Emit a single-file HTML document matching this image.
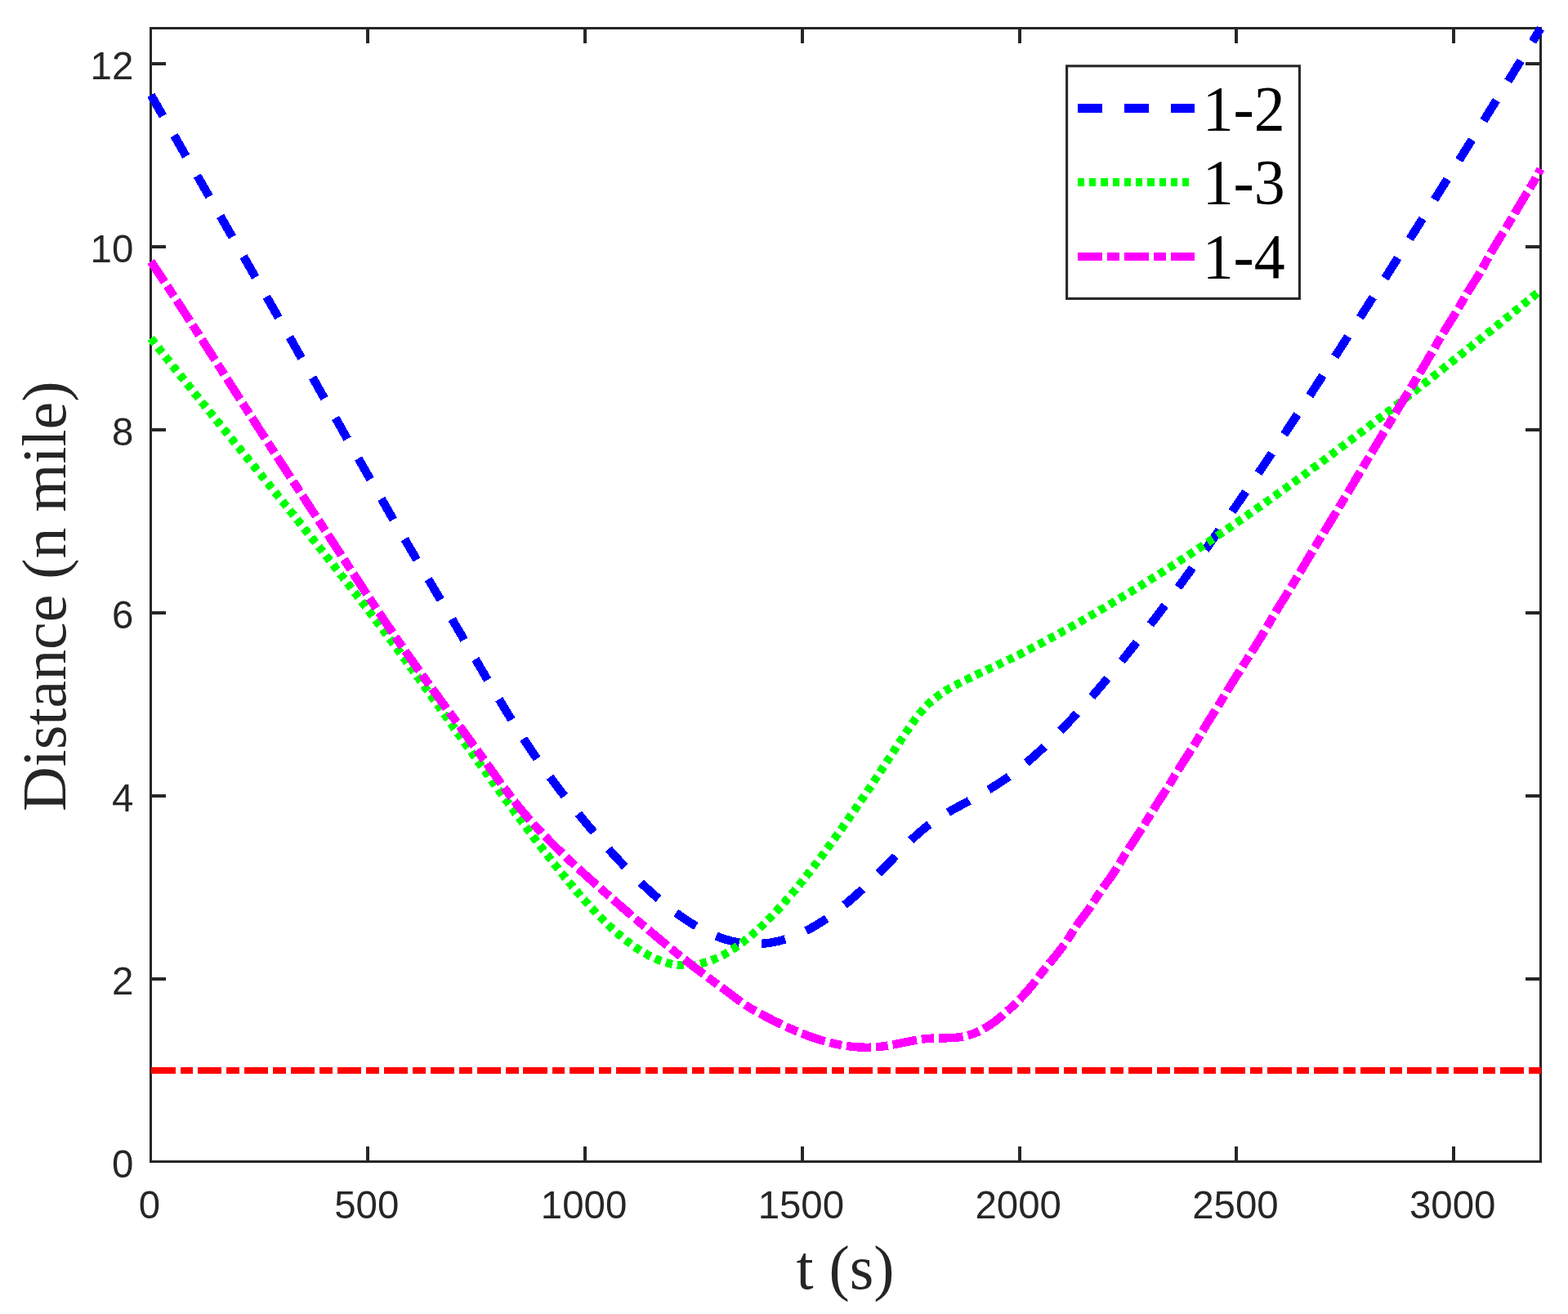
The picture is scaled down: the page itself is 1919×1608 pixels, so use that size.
<!DOCTYPE html>
<html lang="en">
<head>
<meta charset="utf-8">
<title>Distance vs time</title>
<style>
html,body{margin:0;padding:0;background:#fff;}
body{width:1919px;height:1608px;overflow:hidden;}
svg{display:block;}
.tk{font-family:"Liberation Sans",sans-serif;font-size:47.4px;fill:#262626;}
.lb{font-family:"Liberation Serif",serif;font-size:75.84px;fill:#262626;}
.lg{font-family:"Liberation Serif",serif;font-size:75.84px;fill:#000;}
</style>
</head>
<body>
<svg width="1919" height="1608" viewBox="0 0 1919 1608">
<rect x="0" y="0" width="1919" height="1608" fill="#ffffff"/>
<g stroke="#262626" stroke-width="3.1" fill="none" stroke-linecap="butt">
<rect x="184.50" y="34.50" width="1701.00" height="1387.00" stroke-width="3" shape-rendering="crispEdges"/>
<path d="M450 1420.00 v-17.00 M450 36.00 v17.00 M716 1420.00 v-17.00 M716 36.00 v17.00 M982 1420.00 v-17.00 M982 36.00 v17.00 M1248 1420.00 v-17.00 M1248 36.00 v17.00 M1513 1420.00 v-17.00 M1513 36.00 v17.00 M1779 1420.00 v-17.00 M1779 36.00 v17.00 M186.00 1198 h17.00 M1884.00 1198 h-17.00 M186.00 974 h17.00 M1884.00 974 h-17.00 M186.00 750 h17.00 M1884.00 750 h-17.00 M186.00 526 h17.00 M1884.00 526 h-17.00 M186.00 302 h17.00 M1884.00 302 h-17.00 M186.00 78 h17.00 M1884.00 78 h-17.00" stroke-width="4" shape-rendering="crispEdges"/>
</g>
<g>
<path d="M184.70 116.37 L187.70 121.58 L190.70 126.79 L193.70 132.01 L196.70 137.22 L199.70 142.44 L202.70 147.65 L205.70 152.87 L208.70 158.09 L211.70 163.31 L214.70 168.54 L217.70 173.76 L220.70 178.98 L223.70 184.21 L226.70 189.44 L229.70 194.66 L232.70 199.89 L235.70 205.12 L238.70 210.35 L241.70 215.58 L244.70 220.81 L247.70 226.05 L250.70 231.28 L253.70 236.51 L256.70 241.75 L259.70 246.98 L262.70 252.22 L265.70 257.45 L268.70 262.69 L271.70 267.92 L274.70 273.16 L277.70 278.39 L280.70 283.63 L283.70 288.87 L286.70 294.10 L289.70 299.34 L292.70 304.58 L295.70 309.82 L298.70 315.05 L301.70 320.29 L304.70 325.53 L307.70 330.77 L310.70 336.01 L313.70 341.26 L316.70 346.50 L319.70 351.74 L322.70 356.99 L325.70 362.24 L328.70 367.48 L331.70 372.73 L334.70 377.99 L337.70 383.24 L340.70 388.49 L343.70 393.75 L346.70 399.01 L349.70 404.27 L352.70 409.53 L355.70 414.79 L358.70 420.06 L361.70 425.32 L364.70 430.60 L367.70 435.87 L370.70 441.14 L373.70 446.42 L376.70 451.70 L379.70 456.98 L382.70 462.27 L385.70 467.56 L388.70 472.85 L391.70 478.14 L394.70 483.44 L397.70 488.74 L400.70 494.04 L403.70 499.34 L406.70 504.64 L409.70 509.95 L412.70 515.25 L415.70 520.55 L418.70 525.86 L421.70 531.16 L424.70 536.46 L427.70 541.76 L430.70 547.06 L433.70 552.35 L436.70 557.64 L439.70 562.93 L442.70 568.21 L445.70 573.49 L448.70 578.76 L451.70 584.03 L454.70 589.30 L457.70 594.55 L460.70 599.80 L463.70 605.05 L466.70 610.29 L469.70 615.52 L472.70 620.74 L475.70 625.95 L478.70 631.15 L481.70 636.35 L484.70 641.53 L487.70 646.71 L490.70 651.87 L493.70 657.02 L496.70 662.17 L499.70 667.29 L502.70 672.41 L505.70 677.52 L508.70 682.61 L511.70 687.70 L514.70 692.77 L517.70 697.84 L520.70 702.90 L523.70 707.95 L526.70 713.01 L529.70 718.06 L532.70 723.11 L535.70 728.16 L538.70 733.21 L541.70 738.26 L544.70 743.32 L547.70 748.38 L550.70 753.45 L553.70 758.53 L556.70 763.62 L559.70 768.72 L562.70 773.83 L565.70 778.95 L568.70 784.08 L571.70 789.21 L574.70 794.35 L577.70 799.49 L580.70 804.64 L583.70 809.77 L586.70 814.91 L589.70 820.04 L592.70 825.15 L595.70 830.26 L598.70 835.36 L601.70 840.43 L604.70 845.49 L607.70 850.53 L610.70 855.55 L613.70 860.54 L616.70 865.51 L619.70 870.44 L622.70 875.35 L625.70 880.22 L628.70 885.05 L631.70 889.84 L634.70 894.59 L637.70 899.29 L640.70 903.95 L643.70 908.55 L646.70 913.09 L649.70 917.58 L652.70 922.00 L655.70 926.37 L658.70 930.68 L661.70 934.95 L664.70 939.16 L667.70 943.33 L670.70 947.45 L673.70 951.53 L676.70 955.58 L679.70 959.59 L682.70 963.56 L685.70 967.51 L688.70 971.42 L691.70 975.31 L694.70 979.16 L697.70 982.98 L700.70 986.78 L703.70 990.54 L706.70 994.27 L709.70 997.97 L712.70 1001.64 L715.70 1005.28 L718.70 1008.89 L721.70 1012.47 L724.70 1016.02 L727.70 1019.54 L730.70 1023.03 L733.70 1026.49 L736.70 1029.92 L739.70 1033.32 L742.70 1036.68 L745.70 1040.02 L748.70 1043.33 L751.70 1046.61 L754.70 1049.86 L757.70 1053.07 L760.70 1056.26 L763.70 1059.41 L766.70 1062.54 L769.70 1065.63 L772.70 1068.68 L775.70 1071.70 L778.70 1074.68 L781.70 1077.62 L784.70 1080.53 L787.70 1083.39 L790.70 1086.22 L793.70 1089.00 L796.70 1091.74 L799.70 1094.43 L802.70 1097.09 L805.70 1099.69 L808.70 1102.25 L811.70 1104.76 L814.70 1107.22 L817.70 1109.64 L820.70 1112.00 L823.70 1114.31 L826.70 1116.57 L829.70 1118.77 L832.70 1120.92 L835.70 1123.01 L838.70 1125.05 L841.70 1127.03 L844.70 1128.95 L847.70 1130.81 L850.70 1132.61 L853.70 1134.35 L856.70 1136.03 L859.70 1137.64 L862.70 1139.19 L865.70 1140.67 L868.70 1142.09 L871.70 1143.44 L874.70 1144.72 L877.70 1145.93 L880.70 1147.07 L883.70 1148.13 L886.70 1149.13 L889.70 1150.05 L892.70 1150.90 L895.70 1151.67 L898.70 1152.37 L901.70 1152.98 L904.70 1153.52 L907.70 1153.98 L910.70 1154.36 L913.70 1154.67 L916.70 1154.89 L919.70 1155.04 L922.70 1155.10 L925.70 1155.09 L928.70 1155.01 L931.70 1154.85 L934.70 1154.61 L937.70 1154.30 L940.70 1153.91 L943.70 1153.45 L946.70 1152.91 L949.70 1152.30 L952.70 1151.62 L955.70 1150.86 L958.70 1150.03 L961.70 1149.13 L964.70 1148.16 L967.70 1147.12 L970.70 1146.01 L973.70 1144.82 L976.70 1143.57 L979.70 1142.25 L982.70 1140.86 L985.70 1139.40 L988.70 1137.87 L991.70 1136.28 L994.70 1134.61 L997.70 1132.88 L1000.70 1131.09 L1003.70 1129.23 L1006.70 1127.30 L1009.70 1125.32 L1012.70 1123.27 L1015.70 1121.16 L1018.70 1119.00 L1021.70 1116.77 L1024.70 1114.49 L1027.70 1112.16 L1030.70 1109.78 L1033.70 1107.34 L1036.70 1104.85 L1039.70 1102.31 L1042.70 1099.73 L1045.70 1097.10 L1048.70 1094.43 L1051.70 1091.71 L1054.70 1088.95 L1057.70 1086.15 L1060.70 1083.32 L1063.70 1080.44 L1066.70 1077.53 L1069.70 1074.58 L1072.70 1071.60 L1075.70 1068.59 L1078.70 1065.55 L1081.70 1062.48 L1084.70 1059.38 L1087.70 1056.25 L1090.70 1053.10 L1093.70 1049.95 L1096.70 1046.80 L1099.70 1043.65 L1102.70 1040.53 L1105.70 1037.44 L1108.70 1034.40 L1111.70 1031.41 L1114.70 1028.48 L1117.70 1025.63 L1120.70 1022.85 L1123.70 1020.15 L1126.70 1017.54 L1129.70 1015.02 L1132.70 1012.59 L1135.70 1010.25 L1138.70 1008.00 L1141.70 1005.85 L1144.70 1003.79 L1147.70 1001.80 L1150.70 999.88 L1153.70 998.03 L1156.70 996.22 L1159.70 994.47 L1162.70 992.76 L1165.70 991.07 L1168.70 989.42 L1171.70 987.77 L1174.70 986.14 L1177.70 984.51 L1180.70 982.88 L1183.70 981.24 L1186.70 979.60 L1189.70 977.95 L1192.70 976.29 L1195.70 974.62 L1198.70 972.93 L1201.70 971.21 L1204.70 969.48 L1207.70 967.72 L1210.70 965.93 L1213.70 964.10 L1216.70 962.25 L1219.70 960.35 L1222.70 958.42 L1225.70 956.44 L1228.70 954.41 L1231.70 952.34 L1234.70 950.21 L1237.70 948.03 L1240.70 945.79 L1243.70 943.50 L1246.70 941.16 L1249.70 938.77 L1252.70 936.33 L1255.70 933.83 L1258.70 931.29 L1261.70 928.71 L1264.70 926.08 L1267.70 923.40 L1270.70 920.68 L1273.70 917.92 L1276.70 915.12 L1279.70 912.27 L1282.70 909.39 L1285.70 906.47 L1288.70 903.52 L1291.70 900.52 L1294.70 897.50 L1297.70 894.44 L1300.70 891.34 L1303.70 888.22 L1306.70 885.07 L1309.70 881.88 L1312.70 878.67 L1315.70 875.43 L1318.70 872.16 L1321.70 868.87 L1324.70 865.55 L1327.70 862.20 L1330.70 858.83 L1333.70 855.43 L1336.70 852.00 L1339.70 848.55 L1342.70 845.08 L1345.70 841.58 L1348.70 838.05 L1351.70 834.51 L1354.70 830.94 L1357.70 827.35 L1360.70 823.73 L1363.70 820.10 L1366.70 816.44 L1369.70 812.76 L1372.70 809.06 L1375.70 805.35 L1378.70 801.61 L1381.70 797.85 L1384.70 794.07 L1387.70 790.28 L1390.70 786.46 L1393.70 782.63 L1396.70 778.78 L1399.70 774.91 L1402.70 771.03 L1405.70 767.13 L1408.70 763.21 L1411.70 759.28 L1414.70 755.34 L1417.70 751.38 L1420.70 747.40 L1423.70 743.41 L1426.70 739.41 L1429.70 735.39 L1432.70 731.36 L1435.70 727.31 L1438.70 723.25 L1441.70 719.18 L1444.70 715.09 L1447.70 710.99 L1450.70 706.88 L1453.70 702.75 L1456.70 698.62 L1459.70 694.47 L1462.70 690.30 L1465.70 686.13 L1468.70 681.94 L1471.70 677.74 L1474.70 673.52 L1477.70 669.30 L1480.70 665.06 L1483.70 660.82 L1486.70 656.56 L1489.70 652.29 L1492.70 648.01 L1495.70 643.71 L1498.70 639.41 L1501.70 635.09 L1504.70 630.77 L1507.70 626.43 L1510.70 622.09 L1513.70 617.73 L1516.70 613.36 L1519.70 608.99 L1522.70 604.60 L1525.70 600.20 L1528.70 595.80 L1531.70 591.38 L1534.70 586.96 L1537.70 582.52 L1540.70 578.08 L1543.70 573.63 L1546.70 569.17 L1549.70 564.70 L1552.70 560.22 L1555.70 555.73 L1558.70 551.24 L1561.70 546.74 L1564.70 542.22 L1567.70 537.71 L1570.70 533.18 L1573.70 528.65 L1576.70 524.10 L1579.70 519.55 L1582.70 515.00 L1585.70 510.44 L1588.70 505.87 L1591.70 501.29 L1594.70 496.70 L1597.70 492.11 L1600.70 487.52 L1603.70 482.92 L1606.70 478.31 L1609.70 473.69 L1612.70 469.07 L1615.70 464.44 L1618.70 459.81 L1621.70 455.17 L1624.70 450.53 L1627.70 445.88 L1630.70 441.23 L1633.70 436.57 L1636.70 431.91 L1639.70 427.24 L1642.70 422.57 L1645.70 417.89 L1648.70 413.21 L1651.70 408.53 L1654.70 403.84 L1657.70 399.15 L1660.70 394.45 L1663.70 389.75 L1666.70 385.05 L1669.70 380.34 L1672.70 375.63 L1675.70 370.92 L1678.70 366.20 L1681.70 361.48 L1684.70 356.76 L1687.70 352.03 L1690.70 347.30 L1693.70 342.57 L1696.70 337.84 L1699.70 333.10 L1702.70 328.36 L1705.70 323.62 L1708.70 318.87 L1711.70 314.13 L1714.70 309.37 L1717.70 304.62 L1720.70 299.86 L1723.70 295.10 L1726.70 290.34 L1729.70 285.58 L1732.70 280.81 L1735.70 276.04 L1738.70 271.26 L1741.70 266.49 L1744.70 261.71 L1747.70 256.93 L1750.70 252.14 L1753.70 247.36 L1756.70 242.57 L1759.70 237.78 L1762.70 232.98 L1765.70 228.18 L1768.70 223.38 L1771.70 218.58 L1774.70 213.78 L1777.70 208.97 L1780.70 204.16 L1783.70 199.35 L1786.70 194.53 L1789.70 189.72 L1792.70 184.90 L1795.70 180.08 L1798.70 175.25 L1801.70 170.43 L1804.70 165.60 L1807.70 160.76 L1810.70 155.93 L1813.70 151.10 L1816.70 146.26 L1819.70 141.42 L1822.70 136.57 L1825.70 131.73 L1828.70 126.88 L1831.70 122.03 L1834.70 117.18 L1837.70 112.33 L1840.70 107.47 L1843.70 102.61 L1846.70 97.75 L1849.70 92.89 L1852.70 88.03 L1855.70 83.16 L1858.70 78.29 L1861.70 73.42 L1864.70 68.55 L1867.70 63.68 L1870.70 58.80 L1873.70 53.92 L1876.70 49.04 L1879.70 44.16 L1882.70 39.28 L1885.50 34.72" fill="none" stroke="#0000ff" stroke-width="10.4" stroke-dasharray="29.5 27.385" stroke-dashoffset="0" stroke-linejoin="round" shape-rendering="crispEdges"/>
<path d="M184.70 413.97 L187.70 417.79 L190.70 421.60 L193.70 425.40 L196.70 429.20 L199.70 432.99 L202.70 436.77 L205.70 440.55 L208.70 444.32 L211.70 448.09 L214.70 451.85 L217.70 455.61 L220.70 459.36 L223.70 463.10 L226.70 466.84 L229.70 470.58 L232.70 474.31 L235.70 478.04 L238.70 481.76 L241.70 485.48 L244.70 489.19 L247.70 492.91 L250.70 496.62 L253.70 500.32 L256.70 504.03 L259.70 507.73 L262.70 511.42 L265.70 515.12 L268.70 518.81 L271.70 522.51 L274.70 526.20 L277.70 529.89 L280.70 533.57 L283.70 537.26 L286.70 540.95 L289.70 544.63 L292.70 548.32 L295.70 552.00 L298.70 555.68 L301.70 559.37 L304.70 563.05 L307.70 566.74 L310.70 570.42 L313.70 574.11 L316.70 577.80 L319.70 581.49 L322.70 585.18 L325.70 588.87 L328.70 592.57 L331.70 596.26 L334.70 599.96 L337.70 603.66 L340.70 607.36 L343.70 611.07 L346.70 614.78 L349.70 618.49 L352.70 622.21 L355.70 625.93 L358.70 629.65 L361.70 633.38 L364.70 637.11 L367.70 640.85 L370.70 644.59 L373.70 648.34 L376.70 652.09 L379.70 655.84 L382.70 659.61 L385.70 663.37 L388.70 667.15 L391.70 670.93 L394.70 674.71 L397.70 678.50 L400.70 682.30 L403.70 686.11 L406.70 689.92 L409.70 693.74 L412.70 697.56 L415.70 701.40 L418.70 705.24 L421.70 709.09 L424.70 712.95 L427.70 716.81 L430.70 720.69 L433.70 724.57 L436.70 728.46 L439.70 732.36 L442.70 736.27 L445.70 740.20 L448.70 744.13 L451.70 748.07 L454.70 752.02 L457.70 755.98 L460.70 759.95 L463.70 763.93 L466.70 767.92 L469.70 771.92 L472.70 775.94 L475.70 779.97 L478.70 784.00 L481.70 788.05 L484.70 792.12 L487.70 796.19 L490.70 800.27 L493.70 804.37 L496.70 808.48 L499.70 812.59 L502.70 816.72 L505.70 820.85 L508.70 825.00 L511.70 829.15 L514.70 833.31 L517.70 837.47 L520.70 841.64 L523.70 845.82 L526.70 850.01 L529.70 854.19 L532.70 858.39 L535.70 862.58 L538.70 866.78 L541.70 870.99 L544.70 875.19 L547.70 879.40 L550.70 883.61 L553.70 887.82 L556.70 892.03 L559.70 896.24 L562.70 900.45 L565.70 904.66 L568.70 908.87 L571.70 913.07 L574.70 917.28 L577.70 921.48 L580.70 925.67 L583.70 929.87 L586.70 934.06 L589.70 938.24 L592.70 942.42 L595.70 946.59 L598.70 950.76 L601.70 954.92 L604.70 959.07 L607.70 963.21 L610.70 967.35 L613.70 971.47 L616.70 975.59 L619.70 979.70 L622.70 983.79 L625.70 987.88 L628.70 991.95 L631.70 996.02 L634.70 1000.07 L637.70 1004.11 L640.70 1008.13 L643.70 1012.14 L646.70 1016.14 L649.70 1020.12 L652.70 1024.09 L655.70 1028.04 L658.70 1031.97 L661.70 1035.89 L664.70 1039.79 L667.70 1043.67 L670.70 1047.53 L673.70 1051.37 L676.70 1055.19 L679.70 1058.98 L682.70 1062.75 L685.70 1066.49 L688.70 1070.20 L691.70 1073.88 L694.70 1077.52 L697.70 1081.13 L700.70 1084.71 L703.70 1088.25 L706.70 1091.75 L709.70 1095.21 L712.70 1098.63 L715.70 1102.01 L718.70 1105.34 L721.70 1108.62 L724.70 1111.85 L727.70 1115.04 L730.70 1118.17 L733.70 1121.26 L736.70 1124.28 L739.70 1127.25 L742.70 1130.17 L745.70 1133.02 L748.70 1135.81 L751.70 1138.54 L754.70 1141.20 L757.70 1143.79 L760.70 1146.32 L763.70 1148.77 L766.70 1151.16 L769.70 1153.46 L772.70 1155.69 L775.70 1157.84 L778.70 1159.91 L781.70 1161.90 L784.70 1163.80 L787.70 1165.62 L790.70 1167.34 L793.70 1168.98 L796.70 1170.53 L799.70 1171.98 L802.70 1173.33 L805.70 1174.59 L808.70 1175.75 L811.70 1176.80 L814.70 1177.76 L817.70 1178.60 L820.70 1179.34 L823.70 1179.97 L826.70 1180.49 L829.70 1180.89 L832.70 1181.18 L835.70 1181.36 L838.70 1181.41 L841.70 1181.36 L844.70 1181.18 L847.70 1180.90 L850.70 1180.51 L853.70 1180.00 L856.70 1179.39 L859.70 1178.67 L862.70 1177.85 L865.70 1176.93 L868.70 1175.91 L871.70 1174.78 L874.70 1173.56 L877.70 1172.24 L880.70 1170.82 L883.70 1169.32 L886.70 1167.72 L889.70 1166.03 L892.70 1164.25 L895.70 1162.38 L898.70 1160.43 L901.70 1158.39 L904.70 1156.28 L907.70 1154.08 L910.70 1151.80 L913.70 1149.44 L916.70 1147.01 L919.70 1144.50 L922.70 1141.92 L925.70 1139.26 L928.70 1136.54 L931.70 1133.75 L934.70 1130.89 L937.70 1127.96 L940.70 1124.97 L943.70 1121.92 L946.70 1118.81 L949.70 1115.64 L952.70 1112.41 L955.70 1109.12 L958.70 1105.78 L961.70 1102.39 L964.70 1098.94 L967.70 1095.45 L970.70 1091.90 L973.70 1088.31 L976.70 1084.68 L979.70 1081.00 L982.70 1077.27 L985.70 1073.51 L988.70 1069.71 L991.70 1065.87 L994.70 1061.99 L997.70 1058.08 L1000.70 1054.13 L1003.70 1050.16 L1006.70 1046.15 L1009.70 1042.12 L1012.70 1038.05 L1015.70 1033.96 L1018.70 1029.85 L1021.70 1025.70 L1024.70 1021.53 L1027.70 1017.33 L1030.70 1013.11 L1033.70 1008.86 L1036.70 1004.59 L1039.70 1000.29 L1042.70 995.96 L1045.70 991.62 L1048.70 987.25 L1051.70 982.85 L1054.70 978.43 L1057.70 973.99 L1060.70 969.53 L1063.70 965.05 L1066.70 960.54 L1069.70 956.02 L1072.70 951.47 L1075.70 946.90 L1078.70 942.32 L1081.70 937.72 L1084.70 933.12 L1087.70 928.51 L1090.70 923.91 L1093.70 919.30 L1096.70 914.70 L1099.70 910.12 L1102.70 905.55 L1105.70 901.00 L1108.70 896.49 L1111.70 892.05 L1114.70 887.70 L1117.70 883.48 L1120.70 879.40 L1123.70 875.50 L1126.70 871.80 L1129.70 868.32 L1132.70 865.07 L1135.70 862.04 L1138.70 859.20 L1141.70 856.56 L1144.70 854.08 L1147.70 851.76 L1150.70 849.59 L1153.70 847.54 L1156.70 845.61 L1159.70 843.78 L1162.70 842.04 L1165.70 840.37 L1168.70 838.76 L1171.70 837.20 L1174.70 835.67 L1177.70 834.16 L1180.70 832.67 L1183.70 831.20 L1186.70 829.75 L1189.70 828.32 L1192.70 826.89 L1195.70 825.48 L1198.70 824.08 L1201.70 822.68 L1204.70 821.29 L1207.70 819.90 L1210.70 818.52 L1213.70 817.13 L1216.70 815.73 L1219.70 814.33 L1222.70 812.93 L1225.70 811.51 L1228.70 810.08 L1231.70 808.64 L1234.70 807.19 L1237.70 805.73 L1240.70 804.26 L1243.70 802.77 L1246.70 801.28 L1249.70 799.78 L1252.70 798.26 L1255.70 796.74 L1258.70 795.21 L1261.70 793.66 L1264.70 792.11 L1267.70 790.55 L1270.70 788.98 L1273.70 787.40 L1276.70 785.81 L1279.70 784.21 L1282.70 782.60 L1285.70 780.99 L1288.70 779.36 L1291.70 777.73 L1294.70 776.09 L1297.70 774.44 L1300.70 772.79 L1303.70 771.12 L1306.70 769.45 L1309.70 767.77 L1312.70 766.09 L1315.70 764.40 L1318.70 762.70 L1321.70 760.99 L1324.70 759.28 L1327.70 757.56 L1330.70 755.84 L1333.70 754.11 L1336.70 752.37 L1339.70 750.62 L1342.70 748.87 L1345.70 747.12 L1348.70 745.35 L1351.70 743.59 L1354.70 741.81 L1357.70 740.03 L1360.70 738.24 L1363.70 736.45 L1366.70 734.65 L1369.70 732.84 L1372.70 731.03 L1375.70 729.21 L1378.70 727.39 L1381.70 725.56 L1384.70 723.72 L1387.70 721.88 L1390.70 720.04 L1393.70 718.18 L1396.70 716.32 L1399.70 714.46 L1402.70 712.59 L1405.70 710.71 L1408.70 708.83 L1411.70 706.94 L1414.70 705.05 L1417.70 703.15 L1420.70 701.25 L1423.70 699.33 L1426.70 697.42 L1429.70 695.50 L1432.70 693.57 L1435.70 691.64 L1438.70 689.70 L1441.70 687.76 L1444.70 685.81 L1447.70 683.85 L1450.70 681.89 L1453.70 679.93 L1456.70 677.96 L1459.70 675.98 L1462.70 674.00 L1465.70 672.02 L1468.70 670.02 L1471.70 668.03 L1474.70 666.03 L1477.70 664.02 L1480.70 662.01 L1483.70 659.99 L1486.70 657.97 L1489.70 655.94 L1492.70 653.91 L1495.70 651.87 L1498.70 649.83 L1501.70 647.78 L1504.70 645.73 L1507.70 643.67 L1510.70 641.61 L1513.70 639.54 L1516.70 637.47 L1519.70 635.39 L1522.70 633.31 L1525.70 631.23 L1528.70 629.14 L1531.70 627.04 L1534.70 624.94 L1537.70 622.84 L1540.70 620.73 L1543.70 618.61 L1546.70 616.49 L1549.70 614.37 L1552.70 612.24 L1555.70 610.11 L1558.70 607.98 L1561.70 605.83 L1564.70 603.69 L1567.70 601.54 L1570.70 599.39 L1573.70 597.23 L1576.70 595.07 L1579.70 592.90 L1582.70 590.73 L1585.70 588.55 L1588.70 586.38 L1591.70 584.19 L1594.70 582.01 L1597.70 579.81 L1600.70 577.62 L1603.70 575.42 L1606.70 573.22 L1609.70 571.01 L1612.70 568.80 L1615.70 566.59 L1618.70 564.37 L1621.70 562.14 L1624.70 559.92 L1627.70 557.69 L1630.70 555.46 L1633.70 553.22 L1636.70 550.98 L1639.70 548.73 L1642.70 546.48 L1645.70 544.23 L1648.70 541.98 L1651.70 539.72 L1654.70 537.46 L1657.70 535.19 L1660.70 532.92 L1663.70 530.65 L1666.70 528.37 L1669.70 526.10 L1672.70 523.81 L1675.70 521.53 L1678.70 519.24 L1681.70 516.95 L1684.70 514.65 L1687.70 512.35 L1690.70 510.05 L1693.70 507.75 L1696.70 505.44 L1699.70 503.13 L1702.70 500.81 L1705.70 498.50 L1708.70 496.18 L1711.70 493.85 L1714.70 491.53 L1717.70 489.20 L1720.70 486.87 L1723.70 484.53 L1726.70 482.20 L1729.70 479.86 L1732.70 477.51 L1735.70 475.17 L1738.70 472.82 L1741.70 470.47 L1744.70 468.12 L1747.70 465.76 L1750.70 463.40 L1753.70 461.04 L1756.70 458.68 L1759.70 456.32 L1762.70 453.95 L1765.70 451.58 L1768.70 449.20 L1771.70 446.83 L1774.70 444.45 L1777.70 442.07 L1780.70 439.69 L1783.70 437.31 L1786.70 434.92 L1789.70 432.53 L1792.70 430.14 L1795.70 427.75 L1798.70 425.35 L1801.70 422.96 L1804.70 420.56 L1807.70 418.16 L1810.70 415.75 L1813.70 413.35 L1816.70 410.94 L1819.70 408.53 L1822.70 406.12 L1825.70 403.71 L1828.70 401.30 L1831.70 398.88 L1834.70 396.46 L1837.70 394.04 L1840.70 391.62 L1843.70 389.20 L1846.70 386.78 L1849.70 384.35 L1852.70 381.92 L1855.70 379.50 L1858.70 377.07 L1861.70 374.63 L1864.70 372.20 L1867.70 369.77 L1870.70 367.33 L1873.70 364.89 L1876.70 362.45 L1879.70 360.01 L1882.70 357.57 L1885.50 355.29" fill="none" stroke="#00ff00" stroke-width="10.2" stroke-dasharray="8.2 6.025" stroke-dashoffset="0" stroke-linejoin="round" shape-rendering="crispEdges"/>
<path d="M184.70 320.05 L187.70 324.51 L190.70 328.99 L193.70 333.48 L196.70 337.99 L199.70 342.51 L202.70 347.05 L205.70 351.60 L208.70 356.16 L211.70 360.74 L214.70 365.32 L217.70 369.92 L220.70 374.53 L223.70 379.15 L226.70 383.78 L229.70 388.42 L232.70 393.06 L235.70 397.72 L238.70 402.38 L241.70 407.04 L244.70 411.72 L247.70 416.40 L250.70 421.08 L253.70 425.77 L256.70 430.46 L259.70 435.16 L262.70 439.86 L265.70 444.56 L268.70 449.26 L271.70 453.96 L274.70 458.67 L277.70 463.37 L280.70 468.07 L283.70 472.78 L286.70 477.48 L289.70 482.17 L292.70 486.87 L295.70 491.56 L298.70 496.25 L301.70 500.93 L304.70 505.61 L307.70 510.28 L310.70 514.95 L313.70 519.61 L316.70 524.26 L319.70 528.91 L322.70 533.55 L325.70 538.19 L328.70 542.82 L331.70 547.45 L334.70 552.08 L337.70 556.70 L340.70 561.31 L343.70 565.93 L346.70 570.54 L349.70 575.14 L352.70 579.75 L355.70 584.35 L358.70 588.95 L361.70 593.55 L364.70 598.15 L367.70 602.74 L370.70 607.34 L373.70 611.93 L376.70 616.53 L379.70 621.12 L382.70 625.72 L385.70 630.31 L388.70 634.91 L391.70 639.51 L394.70 644.11 L397.70 648.71 L400.70 653.31 L403.70 657.91 L406.70 662.52 L409.70 667.12 L412.70 671.73 L415.70 676.34 L418.70 680.94 L421.70 685.55 L424.70 690.15 L427.70 694.74 L430.70 699.33 L433.70 703.92 L436.70 708.50 L439.70 713.08 L442.70 717.64 L445.70 722.20 L448.70 726.75 L451.70 731.29 L454.70 735.82 L457.70 740.34 L460.70 744.85 L463.70 749.34 L466.70 753.82 L469.70 758.29 L472.70 762.74 L475.70 767.17 L478.70 771.59 L481.70 775.99 L484.70 780.37 L487.70 784.74 L490.70 789.08 L493.70 793.41 L496.70 797.71 L499.70 801.99 L502.70 806.25 L505.70 810.49 L508.70 814.71 L511.70 818.92 L514.70 823.11 L517.70 827.29 L520.70 831.45 L523.70 835.60 L526.70 839.74 L529.70 843.86 L532.70 847.98 L535.70 852.09 L538.70 856.20 L541.70 860.30 L544.70 864.39 L547.70 868.48 L550.70 872.57 L553.70 876.65 L556.70 880.74 L559.70 884.83 L562.70 888.92 L565.70 893.01 L568.70 897.11 L571.70 901.21 L574.70 905.32 L577.70 909.44 L580.70 913.56 L583.70 917.70 L586.70 921.85 L589.70 926.01 L592.70 930.18 L595.70 934.37 L598.70 938.57 L601.70 942.78 L604.70 946.99 L607.70 951.18 L610.70 955.36 L613.70 959.52 L616.70 963.63 L619.70 967.70 L622.70 971.72 L625.70 975.68 L628.70 979.56 L631.70 983.37 L634.70 987.09 L637.70 990.74 L640.70 994.32 L643.70 997.83 L646.70 1001.28 L649.70 1004.67 L652.70 1008.00 L655.70 1011.28 L658.70 1014.51 L661.70 1017.70 L664.70 1020.85 L667.70 1023.96 L670.70 1027.04 L673.70 1030.09 L676.70 1033.11 L679.70 1036.09 L682.70 1039.06 L685.70 1041.99 L688.70 1044.90 L691.70 1047.78 L694.70 1050.64 L697.70 1053.48 L700.70 1056.29 L703.70 1059.09 L706.70 1061.86 L709.70 1064.62 L712.70 1067.36 L715.70 1070.08 L718.70 1072.79 L721.70 1075.49 L724.70 1078.17 L727.70 1080.84 L730.70 1083.50 L733.70 1086.15 L736.70 1088.79 L739.70 1091.42 L742.70 1094.04 L745.70 1096.66 L748.70 1099.28 L751.70 1101.89 L754.70 1104.50 L757.70 1107.11 L760.70 1109.71 L763.70 1112.31 L766.70 1114.91 L769.70 1117.50 L772.70 1120.09 L775.70 1122.67 L778.70 1125.24 L781.70 1127.81 L784.70 1130.37 L787.70 1132.93 L790.70 1135.47 L793.70 1138.01 L796.70 1140.55 L799.70 1143.07 L802.70 1145.58 L805.70 1148.09 L808.70 1150.58 L811.70 1153.07 L814.70 1155.54 L817.70 1158.00 L820.70 1160.46 L823.70 1162.90 L826.70 1165.33 L829.70 1167.74 L832.70 1170.14 L835.70 1172.53 L838.70 1174.91 L841.70 1177.27 L844.70 1179.62 L847.70 1181.95 L850.70 1184.27 L853.70 1186.57 L856.70 1188.86 L859.70 1191.13 L862.70 1193.38 L865.70 1195.62 L868.70 1197.84 L871.70 1200.04 L874.70 1202.22 L877.70 1204.40 L880.70 1206.59 L883.70 1208.79 L886.70 1211.03 L889.70 1213.28 L892.70 1215.55 L895.70 1217.81 L898.70 1220.06 L901.70 1222.29 L904.70 1224.48 L907.70 1226.62 L910.70 1228.71 L913.70 1230.73 L916.70 1232.67 L919.70 1234.52 L922.70 1236.28 L925.70 1237.96 L928.70 1239.59 L931.70 1241.19 L934.70 1242.77 L937.70 1244.34 L940.70 1245.89 L943.70 1247.42 L946.70 1248.93 L949.70 1250.42 L952.70 1251.89 L955.70 1253.33 L958.70 1254.75 L961.70 1256.15 L964.70 1257.52 L967.70 1258.86 L970.70 1260.18 L973.70 1261.47 L976.70 1262.72 L979.70 1263.95 L982.70 1265.14 L985.70 1266.31 L988.70 1267.43 L991.70 1268.53 L994.70 1269.58 L997.70 1270.60 L1000.70 1271.58 L1003.70 1272.53 L1006.70 1273.43 L1009.70 1274.29 L1012.70 1275.11 L1015.70 1275.89 L1018.70 1276.62 L1021.70 1277.30 L1024.70 1277.94 L1027.70 1278.54 L1030.70 1279.08 L1033.70 1279.58 L1036.70 1280.02 L1039.70 1280.42 L1042.70 1280.77 L1045.70 1281.06 L1048.70 1281.30 L1051.70 1281.49 L1054.70 1281.62 L1057.70 1281.70 L1060.70 1281.73 L1063.70 1281.70 L1066.70 1281.61 L1069.70 1281.46 L1072.70 1281.25 L1075.70 1280.99 L1078.70 1280.66 L1081.70 1280.28 L1084.70 1279.84 L1087.70 1279.35 L1090.70 1278.82 L1093.70 1278.26 L1096.70 1277.67 L1099.70 1277.07 L1102.70 1276.45 L1105.70 1275.83 L1108.70 1275.21 L1111.70 1274.60 L1114.70 1274.00 L1117.70 1273.44 L1120.70 1272.90 L1123.70 1272.40 L1126.70 1271.95 L1129.70 1271.55 L1132.70 1271.22 L1135.70 1270.95 L1138.70 1270.75 L1141.70 1270.61 L1144.70 1270.52 L1147.70 1270.46 L1150.70 1270.42 L1153.70 1270.39 L1156.70 1270.35 L1159.70 1270.28 L1162.70 1270.18 L1165.70 1270.03 L1168.70 1269.82 L1171.70 1269.53 L1174.70 1269.16 L1177.70 1268.67 L1180.70 1268.08 L1183.70 1267.35 L1186.70 1266.50 L1189.70 1265.51 L1192.70 1264.39 L1195.70 1263.12 L1198.70 1261.72 L1201.70 1260.18 L1204.70 1258.51 L1207.70 1256.72 L1210.70 1254.81 L1213.70 1252.78 L1216.70 1250.64 L1219.70 1248.39 L1222.70 1246.05 L1225.70 1243.60 L1228.70 1241.06 L1231.70 1238.43 L1234.70 1235.72 L1237.70 1232.92 L1240.70 1230.05 L1243.70 1227.11 L1246.70 1224.07 L1249.70 1220.94 L1252.70 1217.72 L1255.70 1214.40 L1258.70 1210.96 L1261.70 1207.42 L1264.70 1203.75 L1267.70 1199.96 L1270.70 1196.05 L1273.70 1192.12 L1276.70 1188.26 L1279.70 1184.51 L1282.70 1180.83 L1285.70 1177.19 L1288.70 1173.55 L1291.70 1169.87 L1294.70 1166.11 L1297.70 1162.25 L1300.70 1158.24 L1303.70 1154.05 L1306.70 1149.66 L1309.70 1145.09 L1312.70 1140.37 L1315.70 1135.66 L1318.70 1131.19 L1321.70 1127.02 L1324.70 1123.04 L1327.70 1119.11 L1330.70 1115.12 L1333.70 1110.92 L1336.70 1106.40 L1339.70 1101.65 L1342.70 1096.93 L1345.70 1092.44 L1348.70 1088.15 L1351.70 1083.98 L1354.70 1079.87 L1357.70 1075.74 L1360.70 1071.51 L1363.70 1067.12 L1366.70 1062.48 L1369.70 1057.57 L1372.70 1052.51 L1375.70 1047.53 L1378.70 1042.72 L1381.70 1038.05 L1384.70 1033.45 L1387.70 1028.91 L1390.70 1024.36 L1393.70 1019.77 L1396.70 1015.09 L1399.70 1010.29 L1402.70 1005.38 L1405.70 1000.43 L1408.70 995.49 L1411.70 990.62 L1414.70 985.84 L1417.70 981.15 L1420.70 976.51 L1423.70 971.88 L1426.70 967.22 L1429.70 962.51 L1432.70 957.70 L1435.70 952.75 L1438.70 947.70 L1441.70 942.68 L1444.70 937.81 L1447.70 933.10 L1450.70 928.48 L1453.70 923.91 L1456.70 919.32 L1459.70 914.67 L1462.70 909.89 L1465.70 904.94 L1468.70 899.81 L1471.70 894.66 L1474.70 889.64 L1477.70 884.74 L1480.70 879.93 L1483.70 875.18 L1486.70 870.44 L1489.70 865.68 L1492.70 860.86 L1495.70 855.96 L1498.70 850.96 L1501.70 845.95 L1504.70 841.01 L1507.70 836.13 L1510.70 831.32 L1513.70 826.54 L1516.70 821.80 L1519.70 817.09 L1522.70 812.38 L1525.70 807.68 L1528.70 802.96 L1531.70 798.22 L1534.70 793.44 L1537.70 788.62 L1540.70 783.75 L1543.70 778.80 L1546.70 773.77 L1549.70 768.66 L1552.70 763.49 L1555.70 758.30 L1558.70 753.16 L1561.70 748.10 L1564.70 743.17 L1567.70 738.34 L1570.70 733.56 L1573.70 728.80 L1576.70 724.00 L1579.70 719.14 L1582.70 714.21 L1585.70 709.23 L1588.70 704.20 L1591.70 699.15 L1594.70 694.07 L1597.70 688.99 L1600.70 683.91 L1603.70 678.85 L1606.70 673.81 L1609.70 668.80 L1612.70 663.82 L1615.70 658.86 L1618.70 653.92 L1621.70 649.00 L1624.70 644.08 L1627.70 639.16 L1630.70 634.24 L1633.70 629.31 L1636.70 624.36 L1639.70 619.39 L1642.70 614.41 L1645.70 609.41 L1648.70 604.40 L1651.70 599.38 L1654.70 594.35 L1657.70 589.31 L1660.70 584.26 L1663.70 579.21 L1666.70 574.15 L1669.70 569.09 L1672.70 564.04 L1675.70 558.98 L1678.70 553.93 L1681.70 548.88 L1684.70 543.84 L1687.70 538.81 L1690.70 533.79 L1693.70 528.78 L1696.70 523.79 L1699.70 518.81 L1702.70 513.85 L1705.70 508.90 L1708.70 503.97 L1711.70 499.05 L1714.70 494.13 L1717.70 489.21 L1720.70 484.30 L1723.70 479.37 L1726.70 474.44 L1729.70 469.50 L1732.70 464.53 L1735.70 459.55 L1738.70 454.54 L1741.70 449.51 L1744.70 444.45 L1747.70 439.35 L1750.70 434.21 L1753.70 429.03 L1756.70 423.82 L1759.70 418.61 L1762.70 413.46 L1765.70 408.40 L1768.70 403.47 L1771.70 398.65 L1774.70 393.87 L1777.70 389.07 L1780.70 384.17 L1783.70 379.12 L1786.70 373.95 L1789.70 368.74 L1792.70 363.58 L1795.70 358.54 L1798.70 353.69 L1801.70 348.95 L1804.70 344.24 L1807.70 339.45 L1810.70 334.48 L1813.70 329.26 L1816.70 323.85 L1819.70 318.36 L1822.70 312.90 L1825.70 307.58 L1828.70 302.45 L1831.70 297.48 L1834.70 292.59 L1837.70 287.73 L1840.70 282.85 L1843.70 277.91 L1846.70 272.92 L1849.70 267.89 L1852.70 262.84 L1855.70 257.79 L1858.70 252.73 L1861.70 247.69 L1864.70 242.67 L1867.70 237.70 L1870.70 232.78 L1873.70 227.86 L1876.70 222.85 L1879.70 217.66 L1882.70 212.18 L1885.50 206.74" fill="none" stroke="#ff00ff" stroke-width="10.4" stroke-dasharray="30 6 15 5.9" stroke-dashoffset="0" stroke-linejoin="round" shape-rendering="crispEdges"/>
<path d="M185.00 1310.00 L1885.50 1310.00" fill="none" stroke="#ff0000" stroke-width="8" stroke-dasharray="29.5 6 15.5 5.93" stroke-dashoffset="0" stroke-linejoin="round" shape-rendering="crispEdges"/>
</g>
<g class="tk" text-anchor="middle">
<text transform="translate(183.00 1491.00) scale(1 1.028)">0</text>
<text transform="translate(448.78 1491.00) scale(1 1.028)">500</text>
<text transform="translate(714.56 1491.00) scale(1 1.028)">1000</text>
<text transform="translate(980.34 1491.00) scale(1 1.028)">1500</text>
<text transform="translate(1246.12 1491.00) scale(1 1.028)">2000</text>
<text transform="translate(1511.91 1491.00) scale(1 1.028)">2500</text>
<text transform="translate(1777.69 1491.00) scale(1 1.028)">3000</text>
</g>
<g class="tk" text-anchor="end">
<text transform="translate(163.30 1440.76) scale(1 1.028)">0</text>
<text transform="translate(163.30 1216.84) scale(1 1.028)">2</text>
<text transform="translate(163.30 992.92) scale(1 1.028)">4</text>
<text transform="translate(163.30 769.00) scale(1 1.028)">6</text>
<text transform="translate(163.30 545.08) scale(1 1.028)">8</text>
<text transform="translate(163.30 321.16) scale(1 1.028)">10</text>
<text transform="translate(163.30 97.24) scale(1 1.028)">12</text>
</g>
<text class="lb" text-anchor="middle" x="1034.50" y="1576.50">t (s)</text>
<text class="lb" text-anchor="middle" transform="translate(80.20 729.70) rotate(-90)">Distance (n mile)</text>
<rect x="1305.60" y="80.80" width="284.80" height="284.60" fill="#ffffff" stroke="#262626" stroke-width="3.1"/>
<path d="M1319.00 132.50 H1462.00" fill="none" stroke="#0000ff" stroke-width="11" stroke-dasharray="30 27" shape-rendering="crispEdges"/>
<text class="lg" transform="translate(1471.70 158.90) scale(1 1.024)">1-2</text>
<path d="M1319.00 223.00 H1456.00" fill="none" stroke="#00ff00" stroke-width="10" stroke-dasharray="8.2 6.025" shape-rendering="crispEdges"/>
<text class="lg" transform="translate(1471.70 249.30) scale(1 1.024)">1-3</text>
<path d="M1319.00 314.00 H1462.00" fill="none" stroke="#ff00ff" stroke-width="10" stroke-dasharray="30 6 15 6" shape-rendering="crispEdges"/>
<text class="lg" transform="translate(1471.70 340.00) scale(1 1.024)">1-4</text>
</svg>
</body>
</html>
